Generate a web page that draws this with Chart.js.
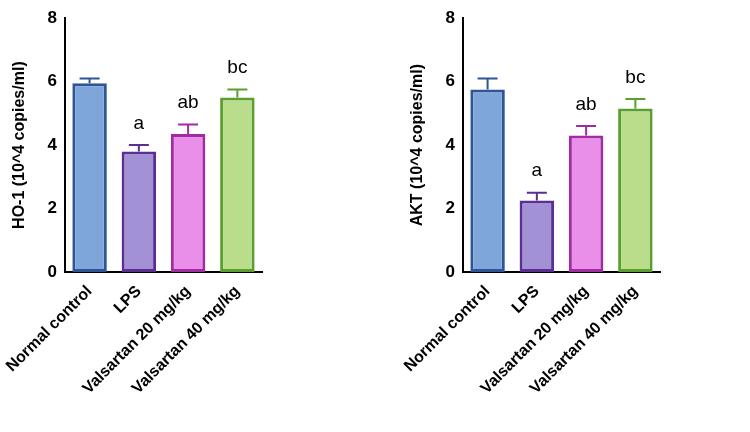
<!DOCTYPE html>
<html><head><meta charset="utf-8">
<script src="https://cdn.jsdelivr.net/npm/chart.js@4.4.0/dist/chart.umd.min.js"></script>
<style>
body{margin:0;background:#fff;width:750px;height:432px;position:relative;overflow:hidden}
.p{position:absolute;top:0;width:300px;height:432px}
</style></head><body>
<div class="p" style="left:0"><canvas id="c1"></canvas></div>
<div class="p" style="left:398px"><canvas id="c2"></canvas></div>
<script>
const groups = ['Normal control', 'LPS', 'Valsartan 20 mg/kg', 'Valsartan 40 mg/kg'];
const ho1 = [5.95, 3.8, 4.35, 5.5];
const ho1Err = [0.15, 0.2, 0.3, 0.25];
const akt = [5.75, 2.25, 4.3, 5.15];
const aktErr = [0.35, 0.25, 0.3, 0.3];
const letters1 = ['', 'a', 'ab', 'bc'];
const letters2 = ['', 'a', 'ab', 'bc'];
const yTicks = [0, 2, 4, 6, 8];

const fills = ['#7ea6da', '#a391d6', '#ea8fe9', '#badd8b'];
const borders = ['#2f5597', '#5b2e91', '#a12ba1', '#5b9e30'];

const errPlugin = {
    id: 'err',
    afterDatasetsDraw(chart) {
        const c = chart.ctx, ys = chart.scales.y;
        const ds = chart.data.datasets[0];
        chart.getDatasetMeta(0).data.forEach((bar, i) => {
            const top = ys.getPixelForValue(ds.data[i] + ds.errs[i]);
            c.save();
            c.strokeStyle = borders[i];
            c.lineWidth = 2;
            c.beginPath();
            c.moveTo(bar.x, bar.y);
            c.lineTo(bar.x, top);
            c.moveTo(bar.x - 10, top);
            c.lineTo(bar.x + 10, top);
            c.stroke();
            c.fillStyle = '#000';
            c.font = '19px "Liberation Sans", Arial';
            c.textAlign = 'center';
            c.textBaseline = 'bottom';
            c.fillText(ds.letters[i], bar.x, top - 12);
            c.restore();
        });
    }
};

function makeChart(id, vals, errs, letters, title, yw) {
    new Chart(document.getElementById(id), {
        type: 'bar',
        data: {
            labels: groups,
            datasets: [{
                data: vals, errs: errs, letters: letters,
                backgroundColor: fills, borderColor: borders,
                borderWidth: 3, borderSkipped: false,
                barPercentage: 0.7, categoryPercentage: 1
            }]
        },
        options: {
            responsive: false, animation: false,
            layout: { padding: { top: 10, right: 38, left: 0, bottom: 0 } },
            plugins: { legend: { display: false }, tooltip: { enabled: false } },
            scales: {
                x: {
                    grid: { display: false },
                    border: { color: '#000', width: 2 },
                    ticks: { color: '#000', font: { family: 'Liberation Sans', size: 16, weight: 'bold' }, minRotation: 45, maxRotation: 45, padding: 2 },
                    afterFit: s => { s.height = 160; }
                },
                y: {
                    min: 0, max: 8,
                    afterBuildTicks: s => { s.ticks = yTicks.map(v => ({ value: v })); },
                    grid: { display: false, drawTicks: false },
                    border: { color: '#000', width: 2 },
                    ticks: { color: '#000', font: { family: 'Liberation Sans', size: 17, weight: 'bold' }, padding: 8 },
                    title: { display: true, text: title, color: '#000', padding: 2, font: { family: 'Liberation Sans', size: 16, weight: 'bold' } },
                    afterFit: s => { s.width = yw; }
                }
            }
        },
        plugins: [errPlugin]
    });
}
document.getElementById('c1').width = 300; document.getElementById('c1').height = 432;
document.getElementById('c2').width = 300; document.getElementById('c2').height = 432;
makeChart('c1', ho1, ho1Err, letters1, 'HO-1 (10^4 copies/ml)', 57);
makeChart('c2', akt, aktErr, letters2, 'AKT (10^4 copies/ml)', 57);
</script>
</body></html>
